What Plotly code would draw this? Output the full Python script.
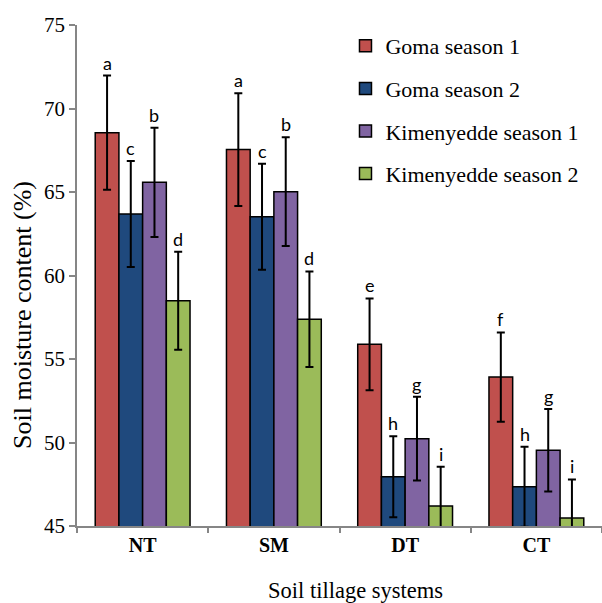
import plotly.graph_objects as go

categories = ["NT", "SM", "DT", "CT"]
series_names = ["Goma season 1", "Goma season 2", "Kimenyedde season 1", "Kimenyedde season 2"]
goma_s1 = [68.55, 67.54, 55.88, 53.92]
goma_s2 = [63.68, 63.52, 47.95, 47.35]
kim_s1 = [65.58, 65.02, 50.23, 49.53]
kim_s2 = [58.49, 57.38, 46.20, 45.48]
goma_s1_err = [3.42, 3.38, 2.75, 2.67]
goma_s2_err = [3.17, 3.17, 2.42, 2.40]
kim_s1_err = [3.27, 3.26, 2.51, 2.47]
kim_s2_err = [2.93, 2.86, 2.35, 2.31]
goma_s1_letters = ["a", "a", "e", "f"]
goma_s2_letters = ["c", "c", "h", "h"]
kim_s1_letters = ["b", "b", "g", "g"]
kim_s2_letters = ["d", "d", "i", "i"]
y_ticks = [45, 50, 55, 60, 65, 70, 75]

values = [goma_s1, goma_s2, kim_s1, kim_s2]
errors = [goma_s1_err, goma_s2_err, kim_s1_err, kim_s2_err]
letters = [goma_s1_letters, goma_s2_letters, kim_s1_letters, kim_s2_letters]
colors = ["#C0504D", "#1F497D", "#8064A2", "#9BBB59"]

SERIF = "Liberation Serif, Times New Roman, serif"
AXC = "#868686"

n = len(series_names)
bw = 0.1806
fig = go.Figure()
annotations = []
for k in range(n):
    xs = [i + (k - (n - 1) / 2) * bw for i in range(len(categories))]
    fig.add_trace(go.Bar(
        x=xs, y=values[k], width=bw, name=series_names[k],
        legendgroup=series_names[k],
        marker=dict(color=colors[k], line=dict(color="black", width=1.5)),
        error_y=dict(type="data", array=errors[k], visible=True,
                     color="black", thickness=2, width=4),
    ))
    for i in range(len(categories)):
        annotations.append(dict(
            x=xs[i], y=values[k][i] + errors[k][i], xref="x", yref="y",
            text=letters[k][i], showarrow=False, yanchor="bottom",
            font=dict(family="Lato, Open Sans, sans-serif", size=18, color="black"),
        ))

annotations.append(dict(
    text="Soil moisture content (%)", textangle=-90, showarrow=False,
    xref="paper", yref="paper", x=-0.105, y=0.421, xanchor="center", yanchor="middle",
    font=dict(family=SERIF, size=26, color="black"),
))
annotations.append(dict(
    text="Soil tillage systems", showarrow=False,
    xref="paper", yref="paper", x=0.530, y=-0.128, xanchor="center", yanchor="middle",
    font=dict(family=SERIF, size=22.5, color="black"),
))

fig.update_layout(
    width=602, height=603,
    margin=dict(l=77, r=0, t=25, b=77),
    plot_bgcolor="white", paper_bgcolor="white",
    barmode="overlay",
    showlegend=True,
    legend=dict(x=0.5114, y=1.0, xanchor="left", yanchor="top",
                font=dict(family=SERIF, size=22, color="black"),
                tracegroupgap=11, bgcolor="rgba(0,0,0,0)"),
    annotations=annotations,
    xaxis=dict(
        range=[-0.5, 3.5], tickvals=list(range(len(categories))),
        ticktext=["<b>%s</b>" % c for c in categories],
        ticks="", showline=True, linecolor=AXC, linewidth=1.5,
        showgrid=False, zeroline=False,
        tickfont=dict(family=SERIF, size=20, color="black"),
        minor=dict(tickvals=[-0.5, 0.5, 1.5, 2.5, 3.5], ticks="outside",
                   ticklen=5, tickcolor=AXC, tickwidth=1.5, showgrid=False),
    ),
    yaxis=dict(
        range=[45, 75], tickvals=y_ticks, ticks="outside", ticklen=6,
        tickcolor=AXC, tickwidth=1.5, showline=True, linecolor=AXC, linewidth=1.5,
        showgrid=False, zeroline=False,
        tickfont=dict(family=SERIF, size=21, color="black"),
    ),
)

fig.write_html("out.html", config={"displayModeBar": False},
               post_script="document.body.style.margin='0px';")
